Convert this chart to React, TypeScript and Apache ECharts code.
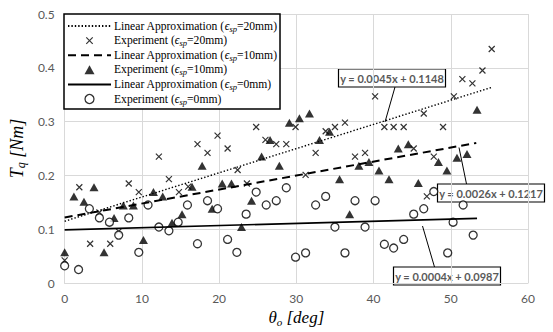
import React, { useEffect, useRef } from "react";
import * as echarts from "echarts";

// Experimental points [theta_o (deg), T_q (Nm)]
const exp20: number[][] = [
  [0, 0.042], [1.9, 0.178], [3.3, 0.073], [4.5, 0.131], [5.9, 0.073], [7.0, 0.096],
  [8.3, 0.185], [9.6, 0.169], [12.2, 0.235], [13.5, 0.193], [14.8, 0.169], [16.0, 0.179],
  [17.2, 0.258], [18.5, 0.242], [19.8, 0.274], [21.1, 0.25], [22.4, 0.21], [23.6, 0.185],
  [24.8, 0.29], [26.0, 0.266], [27.4, 0.258], [28.7, 0.258], [29.9, 0.29], [31.2, 0.201],
  [32.5, 0.242], [33.8, 0.282], [35.0, 0.29], [36.3, 0.298], [37.6, 0.235], [38.9, 0.242],
  [40.2, 0.347], [41.4, 0.29], [42.6, 0.29], [43.9, 0.29], [45.2, 0.25], [46.5, 0.315],
  [46.9, 0.161], [47.8, 0.235], [49.0, 0.29], [50.4, 0.347], [51.5, 0.379], [52.8, 0.371],
  [54.1, 0.395], [55.3, 0.435],
];
const exp10: number[][] = [
  [0, 0.057], [1.2, 0.161], [2.5, 0.151], [3.8, 0.178], [5.1, 0.057], [6.4, 0.121],
  [7.6, 0.144], [8.9, 0.144], [10.2, 0.08], [11.5, 0.169], [12.7, 0.161], [13.9, 0.112],
  [15.2, 0.128], [16.5, 0.179], [17.8, 0.218], [19.1, 0.138], [20.4, 0.185], [21.6, 0.185],
  [22.9, 0.104], [24.2, 0.153], [25.5, 0.235], [26.6, 0.266], [27.8, 0.218], [29.1, 0.298],
  [30.4, 0.306], [31.7, 0.315], [33.0, 0.266], [34.3, 0.281], [35.6, 0.193], [36.9, 0.128],
  [38.1, 0.218], [39.4, 0.225], [40.7, 0.209], [42.0, 0.193], [43.2, 0.25], [44.5, 0.258],
  [45.8, 0.186], [48.4, 0.225], [49.5, 0.209], [50.8, 0.233], [52.1, 0.24], [53.4, 0.322],
];
const exp0: number[][] = [
  [0, 0.032], [1.8, 0.025], [3.2, 0.138], [4.5, 0.121], [5.8, 0.113], [7.0, 0.089],
  [8.3, 0.121], [9.6, 0.057], [10.8, 0.145], [12.2, 0.104], [13.5, 0.097], [14.7, 0.113],
  [15.9, 0.145], [17.2, 0.073], [18.5, 0.153], [19.8, 0.138], [21.1, 0.081], [22.3, 0.057],
  [23.5, 0.128], [24.8, 0.169], [26.1, 0.145], [27.4, 0.153], [28.7, 0.177], [29.9, 0.048],
  [31.2, 0.056], [32.5, 0.145], [33.8, 0.161], [35.0, 0.104], [36.3, 0.056], [37.6, 0.153],
  [38.9, 0.104], [40.2, 0.153], [41.4, 0.072], [42.6, 0.065], [43.9, 0.081], [45.2, 0.128],
  [46.5, 0.138], [47.8, 0.17], [49.6, 0.056], [50.3, 0.113], [51.6, 0.145], [52.9, 0.089],
];

// Trend line end points (from the fitted equations shown)
const lin20: number[][] = [[0, 0.1148], [55.3, 0.3637]];
const lin10: number[][] = [[0, 0.1217], [53.3, 0.2603]];
const lin0: number[][] = [[0, 0.0987], [53.4, 0.1201]];

const equations = ["y = 0.0045x + 0.1148", "y = 0.0026x + 0.1217", "y = 0.0004x + 0.0987"];

const legendLabels: Record<string, string> = {
  lin20: "Linear Approximation ({e|ϵ}{s|sp}=20mm)",
  exp20: "Experiment ({e|ϵ}{s|sp}=20mm)",
  lin10: "Linear Approximation ({e|ϵ}{s|sp}=10mm)",
  exp10: "Experiment ({e|ϵ}{s|sp}=10mm)",
  lin0: "Linear Approximation ({e|ϵ}{s|sp}=0mm)",
  exp0: "Experiment ({e|ϵ}{s|sp}=0mm)",
};

const CROSS = "path://M0,0L10,10M10,0L0,10";
const CROSS_LEGEND = "path://M-2,-2L-2,-2M0,0L10,10M10,0L0,10M12,12L12,12";
const TRIANGLE_LEGEND = "path://M5,0L10,9L0,9Z";
const SERIF = "'Liberation Serif', 'Times New Roman', serif";
const SANS = "Lato, 'Liberation Sans', sans-serif";

export default function App() {
  const ref = useRef<HTMLDivElement>(null);
  useEffect(() => {
    if (!ref.current) return;
    const chart = echarts.init(ref.current, null, { renderer: "svg" });
    const eqBox = (x: number, y: number, text: string) => ({
      type: "group",
      x,
      y,
      z: 100,
      children: [
        { type: "rect", shape: { x: 0, y: 0, width: 107, height: 18 }, style: { fill: "#fff", stroke: "#000", lineWidth: 1.2 } },
        {
          type: "text",
          x: 53.5,
          y: 9.5,
          style: { text, fill: "#595959", font: `bold 11px ${SANS}`, align: "center", verticalAlign: "middle" },
        },
      ],
    });
    const hidden = { color: "transparent", borderWidth: 0 };
    chart.setOption({
      animation: false,
      backgroundColor: "#fff",
      grid: { left: 62, right: 25, top: 14, bottom: 43 },
      xAxis: {
        type: "value",
        min: 0,
        max: 60,
        interval: 10,
        axisLine: { show: true, lineStyle: { color: "#d9d9d9", width: 1 } },
        axisTick: { show: false },
        splitLine: { show: true, lineStyle: { color: "#d9d9d9", width: 1 } },
        axisLabel: { color: "#595959", fontSize: 12, fontFamily: SANS, margin: 9 },
        name: "{i|θ}{s|o}{i| [deg]}",
        nameLocation: "middle",
        nameGap: 25,
        nameTextStyle: {
          rich: {
            i: { fontFamily: SERIF, fontStyle: "italic", fontSize: 17, color: "#000" },
            s: { fontFamily: SERIF, fontStyle: "italic", fontSize: 11, color: "#000", padding: [8, 0, 0, 0] },
          },
        },
      },
      yAxis: {
        type: "value",
        min: 0,
        max: 0.5,
        interval: 0.1,
        axisLine: { show: true, lineStyle: { color: "#d9d9d9", width: 1 } },
        axisTick: { show: false },
        splitLine: { show: true, lineStyle: { color: "#d9d9d9", width: 1 } },
        axisLabel: {
          color: "#595959",
          fontSize: 12,
          fontFamily: SANS,
          margin: 10,
          formatter: (v: number) => (v === 0 ? "0" : v.toFixed(1)),
        },
        name: "{i|T}{s|q}{i| [Nm]}",
        nameLocation: "middle",
        nameRotate: 90,
        nameGap: 34,
        nameTextStyle: {
          rich: {
            i: { fontFamily: SERIF, fontStyle: "italic", fontSize: 18, color: "#000" },
            s: { fontFamily: SERIF, fontStyle: "italic", fontSize: 12, color: "#000", padding: [8, 0, 0, 0] },
          },
        },
      },
      legend: {
        orient: "vertical",
        left: 64,
        top: 14,
        padding: [5, 3, 3, 3],
        borderColor: "#000",
        borderWidth: 1.5,
        backgroundColor: "#fff",
        itemWidth: 43,
        itemHeight: 9,
        itemGap: 0.6,
        selectedMode: false,
        symbolKeepAspect: true,
        data: [
          { name: "lin20" },
          { name: "exp20", icon: CROSS_LEGEND, itemStyle: { color: "transparent", borderColor: "#000", borderWidth: 1.2 } },
          { name: "lin10" },
          { name: "exp10", icon: TRIANGLE_LEGEND, itemStyle: { color: "#000", borderWidth: 0 } },
          { name: "lin0" },
          { name: "exp0", icon: "circle", itemStyle: { color: "#fff", borderColor: "#000", borderWidth: 1.3 } },
        ],
        formatter: (name: string) => legendLabels[name],
        textStyle: {
          fontFamily: SERIF,
          fontSize: 11.6,
          color: "#000",
          lineHeight: 14,
          padding: [0, 0, 0, -2],
          rich: {
            e: { fontFamily: SERIF, fontStyle: "italic", fontSize: 11.6, color: "#000", lineHeight: 14 },
            s: { fontFamily: SERIF, fontStyle: "italic", fontSize: 8.5, color: "#000", lineHeight: 14, padding: [5, 0, 0, 0] },
          },
        },
      },
      series: [
        {
          name: "lin20",
          type: "line",
          data: lin20,
          symbol: "none",
          itemStyle: hidden,
          lineStyle: { color: "#000", width: 1.4, type: [1.4, 2] },
          z: 5,
        },
        {
          name: "exp20",
          type: "scatter",
          data: exp20,
          symbol: CROSS,
          symbolSize: 6,
          itemStyle: { color: "transparent", borderColor: "#000", borderWidth: 1.2 },
        },
        {
          name: "lin10",
          type: "line",
          data: lin10,
          symbol: "none",
          itemStyle: hidden,
          lineStyle: { color: "#000", width: 2, type: [8, 5] },
          z: 5,
        },
        {
          name: "exp10",
          type: "scatter",
          data: exp10,
          symbol: "triangle",
          symbolSize: [9, 8],
          itemStyle: { color: "#000" },
        },
        {
          name: "lin0",
          type: "line",
          data: lin0,
          symbol: "none",
          itemStyle: hidden,
          lineStyle: { color: "#000", width: 1.6, type: "solid" },
          z: 5,
        },
        {
          name: "exp0",
          type: "scatter",
          data: exp0,
          symbol: "circle",
          symbolSize: 8,
          itemStyle: { color: "#fff", borderColor: "#000", borderWidth: 1.3 },
        },
      ],
      graphic: [
        { type: "line", z: 99, shape: { x1: 395, y1: 87, x2: 385, y2: 122 }, style: { stroke: "#000", lineWidth: 1 } },
        { type: "line", z: 99, shape: { x1: 466.5, y1: 184, x2: 459, y2: 147.5 }, style: { stroke: "#000", lineWidth: 1 } },
        { type: "line", z: 99, shape: { x1: 434.5, y1: 267, x2: 422.5, y2: 226 }, style: { stroke: "#000", lineWidth: 1 } },
        eqBox(338.5, 69, equations[0]),
        eqBox(437.5, 184, equations[1]),
        eqBox(393.5, 267, equations[2]),
      ],
    });
    return () => chart.dispose();
  }, []);
  return <div ref={ref} style={{ position: "fixed", left: 0, top: 0, width: 553, height: 332 }} />;
}
